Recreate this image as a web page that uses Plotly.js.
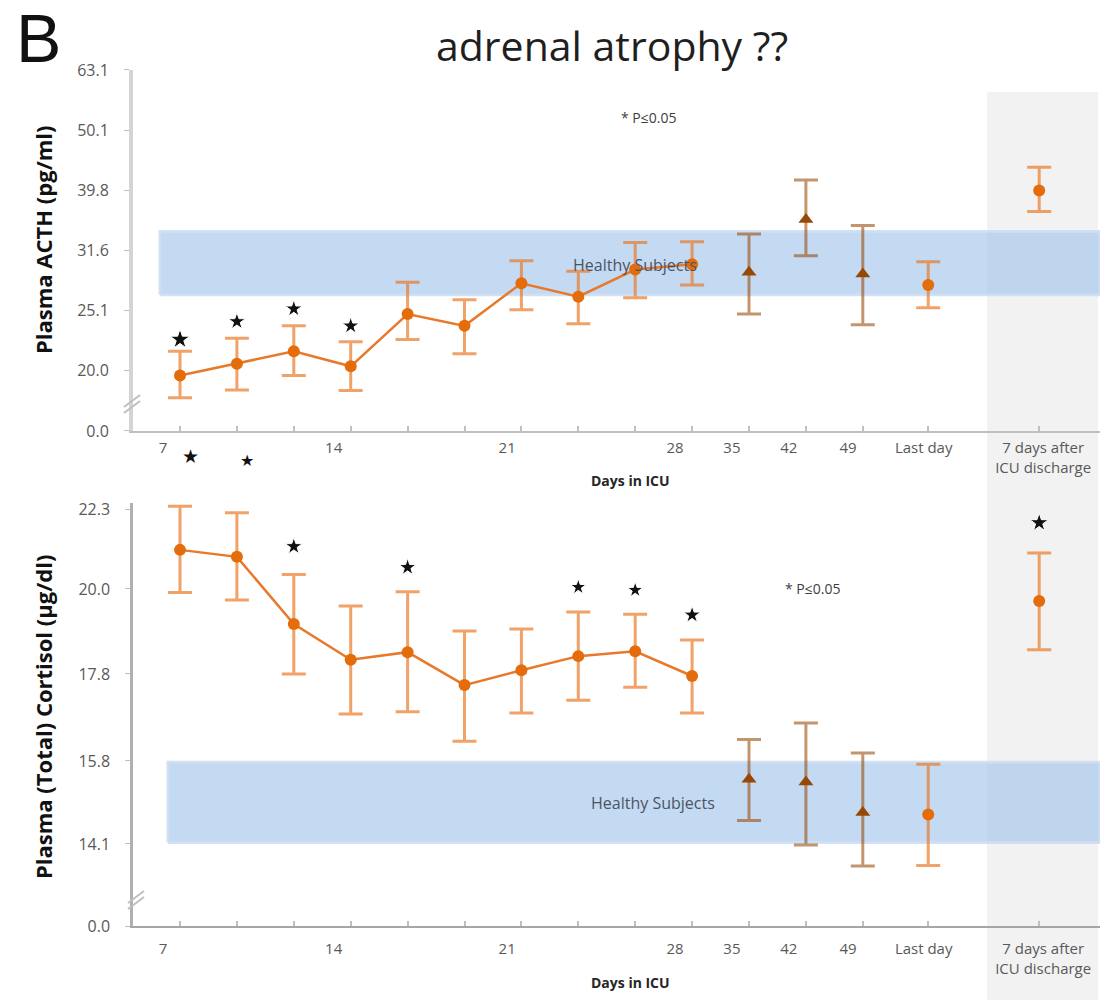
<!DOCTYPE html>
<html>
<head>
<meta charset="utf-8">
<script src="https://cdn.plot.ly/plotly-3.0.1.min.js"></script>
<style>
  html, body { margin: 0; padding: 0; background: #ffffff; }
  #chart { width: 1106px; height: 1000px; }
</style>
</head>
<body>
<div id="chart"></div>
<script>
// ---------------- DATA ----------------
// Time slots along the "Days in ICU" axis (slot index of each measurement)
const slots = [0, 1, 2, 3, 4, 5, 6, 7, 8, 9, 10, 11, 12, 13.15, 15.1];
// marker group of each slot: 'c' = circle, 't' = triangle (long-stay)
const groups = ['c','c','c','c','c','c','c','c','c','c','t','t','t','c','c'];
const connectedCount = 10;

// Plasma ACTH (pg/ml)
const acthMean = [19.6, 20.5, 21.5, 20.3, 24.8, 23.7, 27.9, 26.5, 29.4, 30.0, 29.1, 35.6, 28.9, 27.7, 39.8];
const acthHi   = [21.5, 22.6, 23.7, 22.3, 28.0, 26.2, 30.4, 29.2, 32.6, 32.7, 33.7, 41.4, 34.8, 30.3, 43.5];
const acthLo   = [18.0, 18.55, 19.6, 18.5, 22.5, 21.3, 25.2, 23.9, 26.4, 27.7, 24.8, 31.0, 23.8, 25.4, 36.7];
const acthHealthy = [26.7, 34.0];
const acthStarSlots = [0, 1, 2, 3];
const acthStarY     = [22.5, 24.1, 25.3, 23.7];

// Plasma (Total) Cortisol (µg/dl)
const cortMean = [21.1, 20.9, 19.06, 18.15, 18.34, 17.53, 17.89, 18.24, 18.36, 17.75, 15.41, 15.35, 14.72, 14.68, 19.67];
const cortHi   = [22.4, 22.2, 20.4, 19.54, 19.92, 18.88, 18.93, 19.38, 19.32, 18.65, 16.27, 16.64, 15.97, 15.73, 21.01];
const cortLo   = [19.9, 19.7, 17.8, 16.85, 16.9, 16.23, 16.87, 17.17, 17.48, 16.87, 14.56, 14.08, 13.68, 13.69, 18.40];
const cortHealthy = [14.13, 15.77];
const cortStarSlots = [2, 4, 7, 8, 9, 15.1];
const cortStarY     = [21.2, 20.6, 20.05, 19.97, 19.3, 21.9];
// two stars drawn above the top of the cortisol axis
const cortHighStarSlots = [0.18, 1.18];
const cortHighStarY     = [24.0, 23.85];

// Tick labels
const acthTickVals = [15.85, 20.0, 25.1, 31.6, 39.8, 50.1, 63.1];
const acthTickText = ['0.0', '20.0', '25.1', '31.6', '39.8', '50.1', '63.1'];
const cortTickVals = [12.6, 14.1, 15.8, 17.8, 20.0, 22.3];
const cortTickText = ['0.0', '14.1', '15.8', '17.8', '20.0', '22.3'];
const dayTickText = ['7', '14', '21', '28', '35', '42', '49', 'Last day', '7 days after<br>ICU discharge'];

// ---------------- STYLE / LAYOUT HELPERS ----------------
const W = 1106, H = 1000, ML = 133, MR = 6;
const PW = W - ML - MR;
const pxX = p => (p - ML) / PW;
const pxY = p => 1 - p / H;
const SLOT_PX = 56.9;
const dayTickPos = [-0.3, 2.7, 5.75, 8.7, 9.7, 10.7, 11.74, 13.07, 15.17];
const xRange = [-0.826, -0.826 + PW / SLOT_PX];

const acthDomain = [pxY(431), pxY(70)];
const acthRange = [1.2, 1.8];
const cortDomain = [pxY(926), pxY(503)];
const cortRange = [Math.log10(12.6), Math.log10(22.5)];

const ORANGE = '#e46c0a';
const ORANGE_ERR = 'rgba(233,122,40,0.7)';
const BROWN = '#974806';
const BROWN_ERR = 'rgba(151,72,6,0.58)';
const FONT = "'Open Sans', 'Liberation Sans', sans-serif";

function pick(arr, idx) { return idx.map(i => arr[i]); }
function idxWhere(fn) { const r = []; groups.forEach((g, i) => { if (fn(g, i)) r.push(i); }); return r; }

const connIdx = idxWhere((g, i) => i < connectedCount);
const triIdx = idxWhere(g => g === 't');
const lateCircIdx = idxWhere((g, i) => g === 'c' && i >= connectedCount);

function bandTrace(vals, xa, ya, x0px) {
  const x0 = xRange[0] + (x0px - ML) / SLOT_PX, x1 = xRange[1];
  return {
    type: 'scatter', mode: 'lines', xaxis: xa, yaxis: ya,
    x: [x0, x1, x1, x0, x0], y: [vals[0], vals[0], vals[1], vals[1], vals[0]],
    fill: 'toself', fillcolor: 'rgba(160,194,234,0.62)',
    line: { color: 'rgba(205,222,243,0.9)', width: 3 },
    showlegend: false, hoverinfo: 'skip'
  };
}

function seriesTraces(mean, hi, lo, xa, ya) {
  const mk = (idx, mode, symbol, color, errColor, size, name) => ({
    type: 'scatter', mode: mode, name: name,
    x: pick(slots, idx), y: pick(mean, idx),
    xaxis: xa, yaxis: ya, cliponaxis: false,
    line: { color: '#e8792b', width: 2.5 },
    marker: { symbol: symbol, size: size, color: color, opacity: 1 },
    error_y: {
      type: 'data', symmetric: false,
      array: idx.map(i => hi[i] - mean[i]),
      arrayminus: idx.map(i => mean[i] - lo[i]),
      color: errColor, thickness: 3, width: 12
    },
    showlegend: false, hoverinfo: 'x+y'
  });
  return [
    mk(connIdx, 'lines+markers', 'circle', ORANGE, ORANGE_ERR, 12, 'ICU'),
    mk(triIdx, 'markers', 'triangle-up', BROWN, BROWN_ERR, 13, 'long stay'),
    mk(lateCircIdx, 'markers', 'circle', ORANGE, ORANGE_ERR, 12, 'later')
  ];
}

function starTrace(sx, sy, xa, ya, sizes) {
  return {
    type: 'scatter', mode: 'markers', x: sx, y: sy, xaxis: xa, yaxis: ya,
    marker: { symbol: 'star', size: sizes, color: '#111111', opacity: 1 },
    cliponaxis: false, showlegend: false, hoverinfo: 'skip'
  };
}

const data = [
  bandTrace(acthHealthy, 'x', 'y', 160),
  bandTrace(cortHealthy, 'x2', 'y2', 168),
  ...seriesTraces(acthMean, acthHi, acthLo, 'x', 'y'),
  ...seriesTraces(cortMean, cortHi, cortLo, 'x2', 'y2'),
  starTrace(acthStarSlots, acthStarY, 'x', 'y', [15, 13, 13, 13]),
  starTrace(cortStarSlots, cortStarY, 'x2', 'y2', [13, 13, 12, 12, 13, 14])
];

function xAxis(anchor, standoff, linecolor) {
  return {
    type: 'linear', range: xRange, anchor: anchor, domain: [0, 1],
    showgrid: false, zeroline: false, showline: true, linecolor: linecolor, linewidth: 2,
    tickmode: 'array', tickvals: dayTickPos, ticktext: dayTickText,
    ticks: '', ticklabelstandoff: standoff,
    tickfont: { family: FONT, size: 15, color: '#595959' },
    minor: { tickmode: 'array', tickvals: slots, ticks: 'inside', ticklen: 5, tickwidth: 1.5, tickcolor: '#bfbfbf', showgrid: false },
    automargin: false, fixedrange: true
  };
}

function yAxis(anchor, domain, range, tv, tt, lw, lc) {
  return {
    type: 'log', anchor: anchor, domain: domain, range: range,
    showgrid: false, zeroline: false, showline: true, linecolor: lc, linewidth: lw,
    tickmode: 'array', tickvals: tv, ticktext: tt,
    ticks: 'outside', ticklen: 5, tickcolor: '#bfbfbf', ticklabelstandoff: 12,
    tickfont: { family: FONT, size: 16, color: '#595959' },
    automargin: false, fixedrange: true
  };
}

// paper-y of a cortisol value (for the stars drawn above the axis top)
const cortPaperY = v => cortDomain[0] + (Math.log10(v) - cortRange[0]) / (cortRange[1] - cortRange[0]) * (cortDomain[1] - cortDomain[0]);
const slotPaperX = s => (s - xRange[0]) / (xRange[1] - xRange[0]);

const slash = (cx, cy) => [-3, 3].map(off => ({
  type: 'line', xref: 'paper', yref: 'paper', layer: 'above',
  x0: pxX(cx - 8), y0: pxY(cy + 6 + off), x1: pxX(cx + 8), y1: pxY(cy - 6 + off),
  line: { color: '#bfbfbf', width: 2 }
}));

const shapes = [
  { type: 'rect', xref: 'paper', yref: 'paper', layer: 'below',
    x0: pxX(987), x1: pxX(1098), y0: 0, y1: pxY(92),
    fillcolor: '#f2f2f2', line: { width: 0 } },
  ...slash(132, 404),
  ...slash(136, 900)
];

const ann = (text, x, y, opts) => Object.assign({
  text: text, xref: 'paper', yref: 'paper', x: pxX(x), y: pxY(y),
  xanchor: 'center', yanchor: 'middle', showarrow: false,
  font: { family: FONT, size: 15, color: '#404040' }
}, opts || {});

const annotations = [
  ann('B', 38, 38, { font: { family: "'Liberation Sans', sans-serif", size: 68, color: '#111111' } }),
  ann('adrenal atrophy ??', 612, 45, { font: { family: FONT, size: 41, color: '#1f1f1f' } }),
  ann('<b>Plasma ACTH (pg/ml)</b>', 43, 240, { textangle: -90, font: { family: FONT, size: 22, color: '#111111' } }),
  ann('<b>Plasma (Total) Cortisol (µg/dl)</b>', 43, 717, { textangle: -90, font: { family: FONT, size: 22, color: '#111111' } }),
  ann('<b>Days in ICU</b>', 630, 480, { font: { family: FONT, size: 14, color: '#262626' } }),
  ann('<b>Days in ICU</b>', 630, 982, { font: { family: FONT, size: 14, color: '#262626' } }),
  ann('Healthy Subjects', 635, 265, { font: { family: FONT, size: 16, color: '#4a5566' } }),
  ann('Healthy Subjects', 653, 803, { font: { family: FONT, size: 16, color: '#4a5566' } }),
  ann('* P≤0.05', 648, 117, { font: { family: FONT, size: 14, color: '#404040' } }),
  ann('* P≤0.05', 812, 588, { font: { family: FONT, size: 14, color: '#404040' } }),
  ...cortHighStarSlots.map((s, i) => ({
    text: '★', xref: 'paper', yref: 'paper', x: slotPaperX(s), y: cortPaperY(cortHighStarY[i]),
    xanchor: 'center', yanchor: 'middle', showarrow: false,
    font: { family: "'DejaVu Sans', sans-serif", size: i === 0 ? 19 : 16, color: '#111111' }
  }))
];

const layout = {
  width: W, height: H,
  margin: { l: ML, r: MR, t: 0, b: 0, pad: 0 },
  paper_bgcolor: '#ffffff', plot_bgcolor: 'rgba(0,0,0,0)',
  showlegend: false,
  xaxis: xAxis('y', 2, '#bfbfbf'),
  xaxis2: xAxis('y2', 8, '#a6a6a6'),
  yaxis: yAxis('x', acthDomain, acthRange, acthTickVals, acthTickText, 4, '#d4d4d4'),
  yaxis2: yAxis('x2', cortDomain, cortRange, cortTickVals, cortTickText, 2.5, '#b0b0b0'),
  shapes: shapes,
  annotations: annotations
};

Plotly.newPlot('chart', data, layout, { displayModeBar: false, responsive: false });
</script>
</body>
</html>
